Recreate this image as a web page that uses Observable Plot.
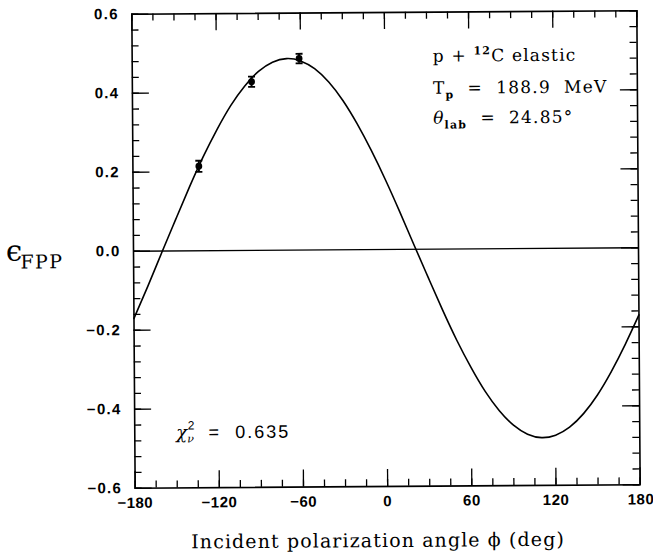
<!DOCTYPE html>
<html>
<head>
<meta charset="utf-8">
<script src="https://cdn.jsdelivr.net/npm/d3@7"></script>
<script src="https://cdn.jsdelivr.net/npm/@observablehq/plot@0.6"></script>
<style>
  html, body { margin: 0; padding: 0; background: #fff; overflow: hidden; }
  #chart svg { display: block; transform-origin: 385.5px 249px; transform: rotate(-0.4deg); }
</style>
</head>
<body>
<div id="chart"></div>
<script>
// ---- Fitted curve (every 10 degrees) ----
const curvePhi = [-180,-170,-160,-150,-140,-130,-120,-110,-100,-90,-80,-70,-60,-50,-40,-30,-20,-10,
                  0,10,20,30,40,50,60,70,80,90,100,110,120,130,140,150,160,170,180];
const curveEps = [-0.170,-0.089,-0.005,0.078,0.160,0.237,0.306,0.367,0.416,0.453,0.476,0.485,0.479,0.459,0.425,0.378,0.319,0.251,
                  0.176,0.095,0.011,-0.072,-0.154,-0.231,-0.300,-0.361,-0.410,-0.447,-0.470,-0.479,-0.473,-0.453,-0.419,-0.372,-0.313,-0.245,-0.170];

// ---- Measured points ----
const dataPhi = [-133, -95, -61];
const dataEps = [0.214, 0.427, 0.485];
const dataErr = [0.014, 0.013, 0.012];

// ---- Ticks ----
const xMajorTicks = [-180, -120, -60, 0, 60, 120, 180];
const xMinorTicks = [-180,-165,-150,-135,-120,-105,-90,-75,-60,-45,-30,-15,0,15,30,45,60,75,90,105,120,135,150,165,180];
const yMajorTicks = [-0.6, -0.4, -0.2, 0.0, 0.2, 0.4, 0.6];
const yMinorTicks = [-0.6,-0.56,-0.52,-0.48,-0.44,-0.4,-0.36,-0.32,-0.28,-0.24,-0.2,-0.16,-0.12,-0.08,-0.04,0,
                     0.04,0.08,0.12,0.16,0.2,0.24,0.28,0.32,0.36,0.4,0.44,0.48,0.52,0.56,0.6];

// ---- Texts ----
const xTitle = "Incident polarization angle \u03d5 (deg)";
const yTitleMain = "\u03f5";
const yTitleSub = "FPP";
const reaction = ["p + ", "12", "C elastic"];
const energy = ["T", "p", "  =  188.9  MeV"];
const angle = ["\u03b8", "lab", "  =  24.85\u00b0"];
const chi2 = ["\u03c7", "\u03bd", "2", "  =  0.635"];

const curve = curvePhi.map((phi, i) => ({phi, eps: curveEps[i]}));
const points = dataPhi.map((phi, i) => ({phi, eps: dataEps[i], err: dataErr[i]}));

const W = 653, H = 556, mL = 133, mR = 15, mT = 12, mB = 70;
const pw = W - mL - mR, ph = H - mT - mB;
const MAJ = 17, MIN = 7;

const capSymbol = {
  draw(context, size) {
    const r = Math.sqrt(size / Math.PI);
    context.moveTo(-r, 0);
    context.lineTo(r, 0);
  }
};

const tickFont = {fontFamily: "'Liberation Sans', Arial, sans-serif", fontSize: 15, fontWeight: "bold"};

const chart = Plot.plot({
  width: W, height: H,
  marginLeft: mL, marginRight: mR, marginTop: mT, marginBottom: mB,
  x: {domain: [-180, 180]},
  y: {domain: [-0.6, 0.6]},
  style: {background: "white", color: "black", fontFamily: "'Liberation Sans', Arial, sans-serif", fontSize: "15px", fontWeight: "bold", letterSpacing: "1.3px", overflow: "visible"},
  marks: [
    Plot.tickX(xMinorTicks, {x: d => d, insetTop: ph - MIN, strokeWidth: 1.3}),
    Plot.tickX(xMinorTicks, {x: d => d, insetBottom: ph - MIN, strokeWidth: 1.3}),
    Plot.tickX(xMajorTicks, {x: d => d, insetTop: ph - MAJ, strokeWidth: 1.3}),
    Plot.tickX(xMajorTicks, {x: d => d, insetBottom: ph - MAJ, strokeWidth: 1.3}),
    Plot.tickY(yMinorTicks, {y: d => d, insetRight: pw - MIN, strokeWidth: 1.3}),
    Plot.tickY(yMinorTicks, {y: d => d, insetLeft: pw - MIN, strokeWidth: 1.3}),
    Plot.tickY(yMajorTicks, {y: d => d, insetRight: pw - MAJ, strokeWidth: 1.3}),
    Plot.tickY(yMajorTicks, {y: d => d, insetLeft: pw - MAJ, strokeWidth: 1.3}),
    Plot.ruleY([0], {strokeWidth: 1.3}),
    Plot.line(curve, {x: "phi", y: "eps", curve: "natural", strokeWidth: 1.6}),
    Plot.ruleX(points, {x: "phi", y1: d => d.eps - d.err, y2: d => d.eps + d.err, strokeWidth: 2}),
    Plot.dot(points, {x: "phi", y: d => d.eps - d.err, symbol: capSymbol, r: 3.5, fill: "none", stroke: "black", strokeWidth: 1.8}),
    Plot.dot(points, {x: "phi", y: d => d.eps + d.err, symbol: capSymbol, r: 3.5, fill: "none", stroke: "black", strokeWidth: 1.8}),
    Plot.dot(points, {x: "phi", y: "eps", r: 3.4, fill: "black", stroke: null}),
    Plot.frame({strokeWidth: 1.6}),
    Plot.axisX(xMajorTicks, {tickSize: 0, tickPadding: 9, tickFormat: d3.format("d"), label: null, ...tickFont}),
    Plot.axisY(yMajorTicks, {tickSize: 0, tickPadding: 13, tickFormat: d3.format(".1f"), label: null, ...tickFont})
  ]
});

document.getElementById("chart").appendChild(chart);

// x tick labels: slightly tighter so the last one stays inside the picture
d3.select(chart).selectAll('g[aria-label="x-axis tick label"] text').style("letter-spacing", "0.5px");
d3.select(chart).selectAll('g[aria-label="x-axis tick label"] text')
  .filter(function() { return this.textContent === "180"; })
  .attr("text-anchor", "end").attr("dx", 14);

// ---- annotations (rich text with sub/superscripts) ----
const svg = d3.select(chart);
const serif = "'DejaVu Serif', 'Liberation Serif', serif";
const g = svg.append("g").attr("fill", "black").attr("text-anchor", "start")
  .style("font-weight", "normal").style("white-space", "pre");

// x title
g.append("text")
  .attr("x", 376).attr("y", 547)
  .attr("text-anchor", "middle")
  .style("font-family", serif).style("font-size", "19px").style("letter-spacing", "1.1px")
  .text(xTitle);

// y title
const yt = g.append("text").attr("x", 6).attr("y", 258)
  .style("font-family", serif).style("letter-spacing", "0px");
yt.append("tspan").style("font-size", "29px").text(yTitleMain);
yt.append("tspan").attr("dx", -2).attr("dy", 8).style("font-size", "19px").style("letter-spacing", "1.5px").text(yTitleSub);

// top-right annotations
const ann = g.append("g").style("font-family", serif).style("font-size", "17px").style("letter-spacing", "1.2px");
const a1 = ann.append("text").attr("x", 434).attr("y", 62);
a1.append("tspan").text(reaction[0]);
a1.append("tspan").attr("dy", -7).style("font-size", "11px").style("font-weight", "bold").text(reaction[1]);
a1.append("tspan").attr("dy", 7).text(reaction[2]);

const a2 = ann.append("text").attr("x", 434).attr("y", 94);
a2.append("tspan").text(energy[0]);
a2.append("tspan").attr("dy", 5).style("font-size", "11px").style("font-weight", "bold").text(energy[1]);
a2.append("tspan").attr("dy", -5).text(energy[2]);

const a3 = ann.append("text").attr("x", 434).attr("y", 124);
a3.append("tspan").style("font-style", "italic").text(angle[0]);
a3.append("tspan").attr("dy", 5).style("font-size", "11px").style("font-weight", "bold").text(angle[1]);
a3.append("tspan").attr("dy", -5).text(angle[2]);

// chi-square
const c1 = g.append("text").attr("x", 175).attr("y", 437)
  .style("font-family", "'Liberation Sans', Arial, sans-serif").style("font-size", "18px").style("letter-spacing", "2px");
c1.append("tspan").style("font-family", serif).style("font-style", "italic").style("font-size", "18px").style("letter-spacing", "0px").text(chi2[0]);
c1.append("tspan").attr("dy", 4).style("font-size", "11px").style("font-family", serif).style("font-style", "italic").style("letter-spacing", "0px").text(chi2[1]);
c1.append("tspan").attr("dx", -6).attr("dy", -13).style("font-size", "12px").style("letter-spacing", "0px").text(chi2[2]);
c1.append("tspan").attr("dy", 9).text(chi2[3]);
</script>
</body>
</html>
